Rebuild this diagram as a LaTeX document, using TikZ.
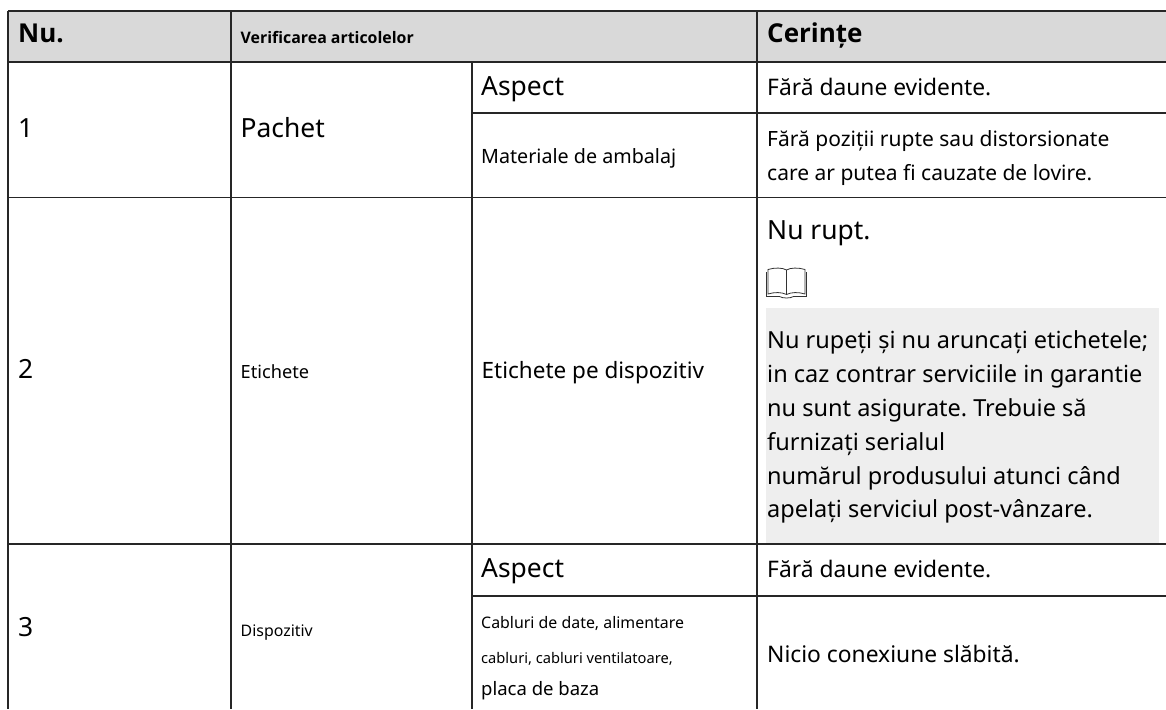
\documentclass[tikz,border=0pt]{standalone}
\usepackage{fontspec}
\setmainfont{Noto Sans}
\newfontfamily\headfont{Open Sans}
\definecolor{headgrey}{gray}{0.85}
\definecolor{notegrey}{gray}{0.935}
\newcommand{\fs}[1]{\fontsize{#1}{#1}\selectfont}
\frenchspacing
\tikzset{
  gridline/.style={line width=1.2pt,draw=black!85},
  cell/.style={anchor=base west,inner sep=0pt},
  hd/.style={cell,font=\headfont\bfseries\fs{26}},
  big/.style={cell,font=\fs{26.4}},
  note/.style={cell,font=\fs{23.5}}
}
\begin{document}
\begin{tikzpicture}[x=1pt,y=-1pt]
\useasboundingbox (0,0) rectangle (1166,709);
\fill[headgrey] (8,11) rectangle (1166,62);
\fill[notegrey] (766,308) rectangle (1159,544);
\foreach \yy in {11,62,197.5,544}{\draw[gridline] (8,\yy) -- (1166,\yy);}
\draw[gridline] (472,113) -- (1166,113);
\draw[gridline] (472,596) -- (1166,596);
\foreach \xx in {8,231,757}{\draw[gridline] (\xx,11) -- (\xx,709);}
\draw[gridline] (472,62) -- (472,709);
\node[hd] (h1) at (18,43) {Nu.};
\node[cell,font=\headfont\bfseries\fs{15.9}] (h2) at (240.5,43.5) {Verificarea articolelor};
\node[hd] (h3) at (767,43) {Cerințe};
\node[big] (n1) at (18,137) {1};
\node[big] (p1) at (240.5,137) {Pachet};
\node[big] (a1) at (481,95) {Aspect};
\node[cell,font=\fs{19.7}] (m1) at (481,163) {Materiale de ambalaj};
\node[cell,font=\fs{22.8}] (c1) at (767,95) {Fără daune evidente.};
\node[cell,font=\fs{21}] (c2a) at (767,146) {Fără poziții rupte sau distorsionate};
\node[cell,font=\fs{21}] (c2b) at (767,180) {care ar putea fi cauzate de lovire.};
\node[big] (n2) at (18,378) {2};
\node[cell,font=\fs{18.2}] (e2) at (240.5,378) {Etichete};
\node[cell,font=\fs{22.5}] (e3) at (481.5,378) {Etichete pe dispozitiv};
\node[big] (r) at (767,239) {Nu rupt.};
\node[note] (r1) at (767,348) {Nu rupeți și nu aruncați etichetele;};
\node[note] (r2) at (767,382.5) {in caz contrar serviciile in garantie};
\node[note] (r3) at (767,416.5) {nu sunt asigurate. Trebuie să};
\node[note] (r4) at (767,450) {furnizați serialul};
\node[note] (r5) at (767,484) {numărul produsului atunci când};
\node[note] (r6) at (767,517) {apelați serviciul post-vânzare.};
\node[big] (n3) at (18,636) {3};
\node[cell,font=\fs{15.9}] (d) at (240.5,636) {Dispozitiv};
\node[big] (a3) at (481,577) {Aspect};
\node[cell,font=\fs{15.9}] (k1) at (481,628) {Cabluri de date, alimentare};
\node[cell,font=\fs{14.65}] (k2) at (481,663) {cabluri, cabluri ventilatoare,};
\node[cell,font=\fs{18.5}] (k3) at (481,695) {placa de baza};
\node[cell,font=\fs{22.8}] (c3) at (767,577) {Fără daune evidente.};
\node[cell,font=\fs{22.8}] (c4) at (767,662) {Nicio conexiune slăbită.};
\begin{scope}[shift={(766.5,268)},line width=.8pt,draw=black!80]
\draw (1.5,1.5) .. controls (8,-.5) and (16,-.5) .. (20,2) .. controls (24,-.5) and (32,-.5) .. (38.5,1.5) -- (38.5,26) .. controls (32,24) and (25,24) .. (20,26.5) .. controls (15,24) and (8,24) .. (1.5,26) -- cycle;
\draw (20,2) -- (20,26.5);
\draw (0,4) -- (0,28.5) -- (13,28.5) .. controls (16,30.5) and (24,30.5) .. (27,28.5) -- (40,28.5) -- (40,4);
\end{scope}
\end{tikzpicture}
\end{document}
